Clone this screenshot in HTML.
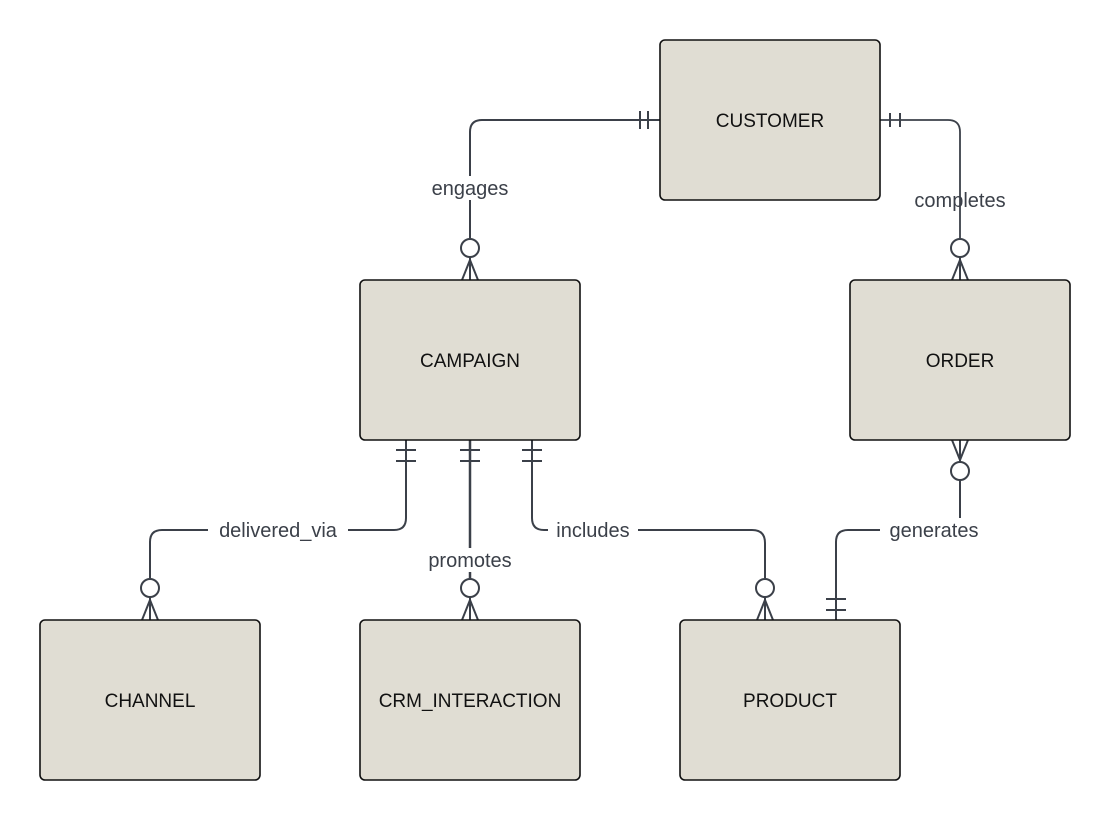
<!DOCTYPE html>
<html><head><meta charset="utf-8"><style>
html,body{margin:0;padding:0;background:#fff;width:1110px;height:820px;overflow:hidden}
svg{display:block}
text{font-family:"Liberation Sans",sans-serif}
</style></head><body>
<svg width="1110" height="820" viewBox="0 0 1110 820" xmlns="http://www.w3.org/2000/svg">
<g fill="none" stroke="#3b4049" stroke-width="2">
<!-- engages -->
<path d="M660,120 H482 Q470,120 470,132 V238"/>
<path d="M648,111 V129 M640,111 V129"/>
<circle cx="470" cy="248" r="9" fill="#fff"/>
<path d="M462,280 L470,260 L478,280 M470,257 V280"/>
<!-- completes -->
<path d="M880,120 H948 Q960,120 960,132 V238" stroke-width="1.8"/>
<path d="M890,113 V127 M900,113 V127"/>
<circle cx="960" cy="248" r="9" fill="#fff"/>
<path d="M952,280 L960,260 L968,280 M960,257 V280"/>
<!-- delivered_via -->
<path d="M406,440 V518 Q406,530 394,530 H162 Q150,530 150,542 V578"/>
<path d="M396,450 H416 M396,461 H416"/>
<circle cx="150" cy="588" r="9" fill="#fff"/>
<path d="M142,620 L150,600 L158,620 M150,597 V620"/>
<!-- promotes -->
<path d="M470,440 V578" stroke-width="2.5"/>
<path d="M460,450 H480 M460,461 H480"/>
<circle cx="470" cy="588" r="9" fill="#fff"/>
<path d="M462,620 L470,600 L478,620 M470,597 V620"/>
<!-- includes -->
<path d="M532,440 V518 Q532,530 544,530 H752 Q765,530 765,543 V578"/>
<path d="M522,450 H542 M522,461 H542"/>
<circle cx="765" cy="588" r="9" fill="#fff"/>
<path d="M757,620 L765,600 L773,620 M765,597 V620"/>
<!-- generates -->
<path d="M960,440 V518 Q960,530 948,530 H848 Q836,530 836,542 V620"/>
<path d="M952,440 L960,460 L968,440 M960,440 V461"/>
<circle cx="960" cy="471" r="9" fill="#fff"/>
<path d="M826,599 H846 M826,610 H846"/>
</g>
<g fill="#fff">
<rect x="420" y="176" width="100" height="24"/>
<rect x="208" y="518" width="140" height="24"/>
<rect x="418" y="548" width="104" height="24"/>
<rect x="548" y="518" width="90" height="24"/>
<rect x="880" y="518" width="108" height="24"/>
</g>
<g fill="#3b4049" font-size="20" text-anchor="middle">
<text x="470" y="195">engages</text>
<text x="960" y="207">completes</text>
<text x="278" y="537">delivered_via</text>
<text x="470" y="567">promotes</text>
<text x="593" y="537">includes</text>
<text x="934" y="537">generates</text>
</g>
<g fill="#e0ddd3" stroke="#111" stroke-width="1.6">
<rect x="660" y="40" width="220" height="160" rx="5"/>
<rect x="360" y="280" width="220" height="160" rx="5"/>
<rect x="850" y="280" width="220" height="160" rx="5"/>
<rect x="40" y="620" width="220" height="160" rx="5"/>
<rect x="360" y="620" width="220" height="160" rx="5"/>
<rect x="680" y="620" width="220" height="160" rx="5"/>
</g>
<g fill="#111" font-size="19" text-anchor="middle">
<text x="770" y="127">CUSTOMER</text>
<text x="470" y="367">CAMPAIGN</text>
<text x="960" y="367">ORDER</text>
<text x="150" y="707">CHANNEL</text>
<text x="470" y="707">CRM_INTERACTION</text>
<text x="790" y="707">PRODUCT</text>
</g>
</svg>
</body></html>
